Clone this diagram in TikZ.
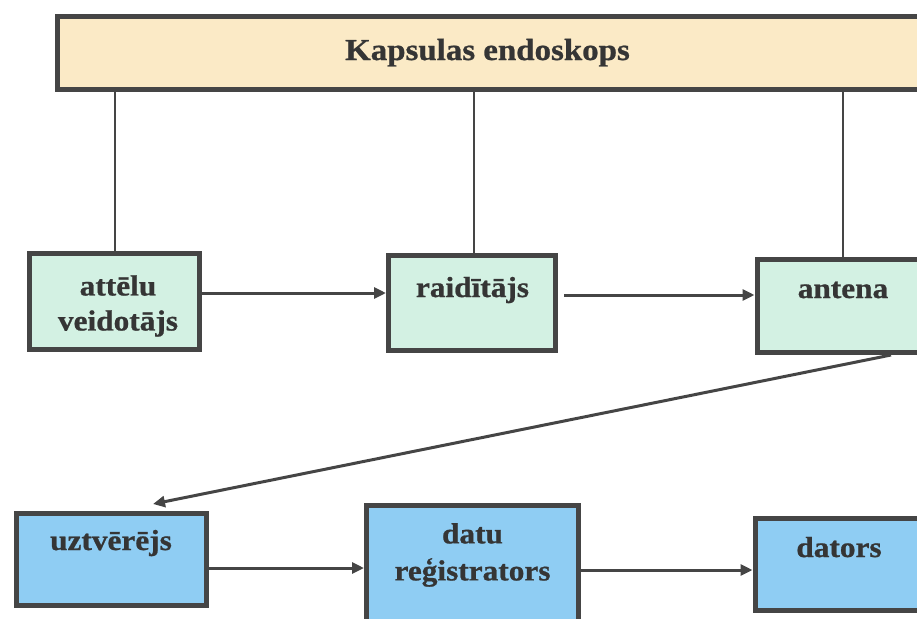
\documentclass[tikz,border=0pt]{standalone}
\usepackage{fontspec}
\setmainfont{Liberation Serif}[BoldFeatures={FakeStretch=1.08,FakeBold=0.8}]
\usetikzlibrary{arrows.meta}
\definecolor{bord}{HTML}{454545}
\definecolor{txt}{HTML}{353535}
\definecolor{cream}{HTML}{FBEAC6}
\definecolor{mint}{HTML}{D3F1E3}
\definecolor{sky}{HTML}{8FCDF3}
\tikzset{
  frame/.style={draw=bord, line width=5pt},
  topbox/.style={frame, fill=cream},
  greenbox/.style={frame, fill=mint},
  bluebox/.style={frame, fill=sky},
  lbl/.style={text=txt, font=\bfseries\fontsize{29}{35}\selectfont, align=center, inner sep=0pt},
  link/.style={draw=bord, line width=1.3pt},
  flow/.style={draw=bord, line width=3pt, -{Triangle[length=12pt,width=11pt]}},
}
\begin{document}
\begin{tikzpicture}[x=1pt,y=-1pt]
\useasboundingbox (0,0) rectangle (917,618);
\clip (0,0) rectangle (917,618);
% boxes
\node[topbox, minimum width=873pt, minimum height=72pt, inner sep=0pt] (top) at (493.5,53) {};
\node[lbl, anchor=base, font=\bfseries\fontsize{30.5}{36}\selectfont] (ttop) at (487.5,60) {Kapsulas endoskops};

\node[greenbox, minimum width=170pt, minimum height=96pt, inner sep=0pt] (att) at (114.5,301.5) {};
\node[greenbox, minimum width=167pt, minimum height=95pt, inner sep=0pt] (raid) at (472,303) {};
\node[greenbox, minimum width=170pt, minimum height=93pt, inner sep=0pt] (ant) at (842,306) {};

\node[bluebox, minimum width=190pt, minimum height=92pt, inner sep=0pt] (uzt) at (111.5,559.5) {};
\node[bluebox, minimum width=212pt, minimum height=120pt, inner sep=0pt] (datu) at (472.5,565) {};
\node[bluebox, minimum width=170pt, minimum height=92pt, inner sep=0pt] (dat) at (840,564.5) {};

% texts
\node[lbl] (tatt) at (118,306) {attēlu\\veidotājs};
\node[lbl, anchor=base] (traid) at (472.5,297) {raidītājs};
\node[lbl, anchor=base] (tant) at (843,298) {antena};
\node[lbl, anchor=base] (tuzt) at (111,550) {uztvērējs};
\node[lbl, font=\bfseries\fontsize{29}{37}\selectfont] (tdatu) at (472.5,555) {datu\\reģistrators};
\node[lbl, anchor=base] (tdat) at (839,557) {dators};

% connectors from top box
\draw[link] (att.north -| 115,0) -- (top.south -| 115,0);
\draw[link] (raid.north -| 474,0) -- (top.south -| 474,0);
\draw[link] (ant.north -| 843,0) -- (top.south -| 843,0);

% flow arrows
\coordinate (a1s) at (att.east |- 0,293);
\draw[flow] (a1s) -- (raid.west |- a1s);
\coordinate (a2s) at (564,295);
\draw[flow] (a2s) -- (ant.west |- a2s);
\coordinate (dgs) at (891,355);
\coordinate (dge) at (153,504);
\draw[flow] (dgs) -- (dge);
\coordinate (a3s) at (uzt.east |- 0,568);
\draw[flow] (a3s) -- (datu.west |- a3s);
\coordinate (a4s) at (datu.east |- 0,570);
\draw[flow] (a4s) -- (dat.west |- a4s);
\end{tikzpicture}
\end{document}
